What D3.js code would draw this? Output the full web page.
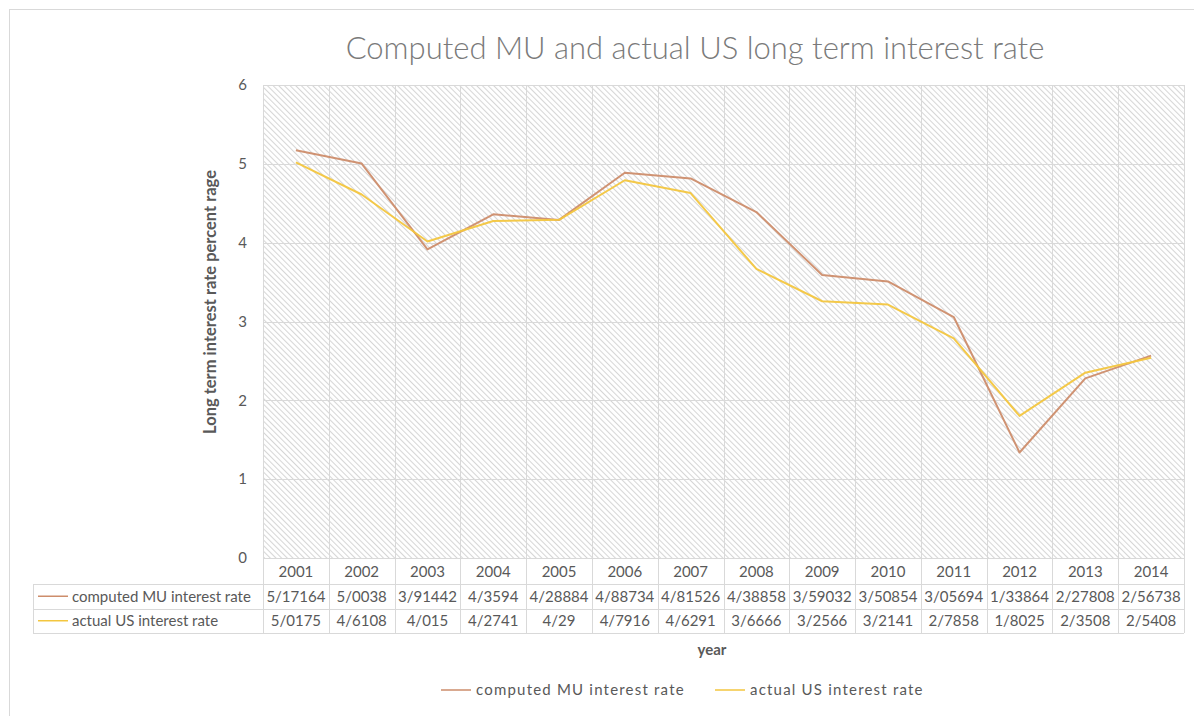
<!DOCTYPE html>
<html><head><meta charset="utf-8">
<script src="https://cdn.jsdelivr.net/npm/d3@7"></script>
<style>body{margin:0;background:#fff;} svg{display:block;}</style>
</head><body>
<svg id="chart" width="1194" height="716"></svg>
<script>
const years = ["2001","2002","2003","2004","2005","2006","2007","2008","2009","2010","2011","2012","2013","2014"];
const computedMU = [5.17164,5.0038,3.91442,4.3594,4.28884,4.88734,4.81526,4.38858,3.59032,3.50854,3.05694,1.33864,2.27808,2.56738];
const actualUS = [5.0175,4.6108,4.015,4.2741,4.29,4.7916,4.6291,3.6666,3.2566,3.2141,2.7858,1.8025,2.3508,2.5408];
const computedLabels = ["5/17164","5/0038","3/91442","4/3594","4/28884","4/88734","4/81526","4/38858","3/59032","3/50854","3/05694","1/33864","2/27808","2/56738"];
const actualLabels = ["5/0175","4/6108","4/015","4/2741","4/29","4/7916","4/6291","3/6666","3/2566","3/2141","2/7858","1/8025","2/3508","2/5408"];
const yTicks = [0,1,2,3,4,5,6];
const seriesNames = ["computed MU interest rate","actual US interest rate"];
const colors = ["#cd8d6b","#f3c63f"];

const svg = d3.select("#chart");
const font = "Lato, 'Open Sans', sans-serif";
const textCol = "#595959";
const gridCol = "#d9d9d9";

// outer chart border
svg.append("rect").attr("x",9.5).attr("y",9.5).attr("width",1300).attr("height",800)
  .attr("fill","#fff").attr("stroke",gridCol);

const L = 263, R = 1184, T = 85, B = 558;
const x = d3.scaleBand().domain(years).range([L,R]);
const y = d3.scaleLinear().domain([0,6]).range([B,T]);

// hatch pattern
const defs = svg.append("defs");
const pat = defs.append("pattern").attr("id","hatch").attr("patternUnits","userSpaceOnUse")
  .attr("width",4).attr("height",4).attr("patternTransform","rotate(-45)");
pat.append("rect").attr("width",4).attr("height",4).attr("fill","#ffffff");
pat.append("line").attr("x1",0.5).attr("y1",0).attr("x2",0.5).attr("y2",4)
  .attr("stroke","#d6d6d6").attr("stroke-width",1.1);

svg.append("rect").attr("x",L).attr("y",T).attr("width",R-L).attr("height",B-T).attr("fill","url(#hatch)");

// horizontal grid
svg.append("g").selectAll("line").data(yTicks).join("line")
  .attr("x1",L).attr("x2",R).attr("y1",d=>Math.round(y(d))+0.5).attr("y2",d=>Math.round(y(d))+0.5)
  .attr("stroke",gridCol).attr("stroke-width",1);

// table rows geometry
const rowTop = 584, rowH = 24.5;
const tableBottom = rowTop + 2*rowH;
const tableLeft = 33;

// vertical grid lines (category boundaries) extending through data table
const bounds = years.map(d=>x(d)).concat([R]);
svg.append("g").selectAll("line").data(bounds).join("line")
  .attr("x1",d=>Math.round(d)+0.5).attr("x2",d=>Math.round(d)+0.5)
  .attr("y1",T).attr("y2",tableBottom).attr("stroke",gridCol);

// table horizontal lines
[rowTop, rowTop+rowH, tableBottom].forEach(v=>{
  svg.append("line").attr("x1",tableLeft).attr("x2",R).attr("y1",Math.round(v)+0.5).attr("y2",Math.round(v)+0.5).attr("stroke",gridCol);
});
svg.append("line").attr("x1",tableLeft+0.5).attr("x2",tableLeft+0.5).attr("y1",rowTop).attr("y2",tableBottom).attr("stroke",gridCol);

// y axis labels
svg.append("g").selectAll("text").data(yTicks).join("text")
  .attr("x",247).attr("y",d=>y(d)).attr("dy","0.35em").attr("text-anchor","end")
  .attr("font-family",font).attr("font-size",15).attr("fill",textCol).text(d=>d);

// year header
svg.append("g").selectAll("text").data(years).join("text")
  .attr("x",d=>x(d)+x.bandwidth()/2).attr("y",572).attr("dy","0.35em").attr("text-anchor","middle")
  .attr("font-family",font).attr("font-size",15).attr("fill",textCol).text(d=>d);

// table values
[computedLabels, actualLabels].forEach((labs,i)=>{
  const cy = rowTop + rowH*i + rowH/2;
  svg.append("g").selectAll("text").data(labs).join("text")
    .attr("x",(d,j)=>x(years[j])+x.bandwidth()/2).attr("y",cy).attr("dy","0.35em").attr("text-anchor","middle")
    .attr("font-family",font).attr("font-size",15).attr("fill",textCol).text(d=>d);
  svg.append("line").attr("x1",38).attr("x2",68).attr("y1",cy).attr("y2",cy)
    .attr("stroke",colors[i]).attr("stroke-width",1.5);
  svg.append("text").attr("x",72).attr("y",cy).attr("dy","0.35em")
    .attr("font-family",font).attr("font-size",15).attr("fill",textCol).text(seriesNames[i]);
});

// lines
const line = d3.line().x((d,i)=>x(years[i])+x.bandwidth()/2).y(d=>y(d));
[computedMU, actualUS].forEach((vals,i)=>{
  svg.append("path").datum(vals).attr("d",line).attr("fill","none")
    .attr("stroke",colors[i]).attr("stroke-width",2).attr("stroke-linejoin","round").attr("opacity",0.95);
});

// title
svg.append("text").attr("x",695).attr("y",48).attr("dy","0.35em").attr("text-anchor","middle")
  .attr("font-family",font).attr("font-weight",300).attr("font-size",31).attr("fill","#7a7a7a")
  .text("Computed MU and actual US long term interest rate");

// axis titles
svg.append("text").attr("x",712).attr("y",650).attr("dy","0.35em").attr("text-anchor","middle")
  .attr("font-family",font).attr("font-weight",700).attr("font-size",15).attr("fill",textCol).text("year");
svg.append("text").attr("transform","translate(210,302) rotate(-90)").attr("dy","0.35em").attr("text-anchor","middle")
  .attr("font-family",font).attr("font-weight",700).attr("font-size",16.5).attr("fill",textCol)
  .text("Long term interest rate percent rage");

// legend
const legX = [441, 715];
seriesNames.forEach((n,i)=>{
  svg.append("line").attr("x1",legX[i]).attr("x2",legX[i]+30).attr("y1",690).attr("y2",690)
    .attr("stroke",colors[i]).attr("stroke-width",1.5);
  svg.append("text").attr("x",legX[i]+35).attr("y",690).attr("dy","0.35em")
    .attr("font-family",font).attr("font-size",15).attr("letter-spacing",1.2).attr("fill",textCol).text(n);
});
</script>
</body></html>
